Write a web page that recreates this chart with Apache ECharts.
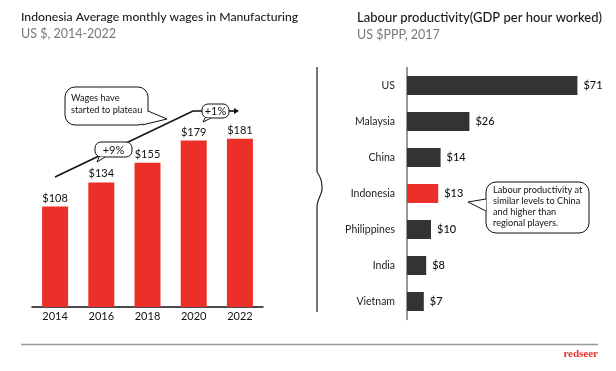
<!DOCTYPE html>
<html><head><meta charset="utf-8">
<script src="https://cdn.jsdelivr.net/npm/echarts@6/dist/echarts.min.js"></script>
<style>html,body{margin:0;padding:0;background:#fff}#c{width:616px;height:371px}</style>
</head><body><div id="c"></div>
<script>
const years = ['2014','2016','2018','2020','2022'];
const wages = [108,134,155,179,181];
const countries = ['US','Malaysia','China','Indonesia','Philippines','India','Vietnam'];
const productivity = [71,26,14,13,10,8,7];
const highlight = 'Indonesia';

const FONT = 'Lato';
const RED = '#ec2f28';
const DARK = '#333333';

const chart = echarts.init(document.getElementById('c'), null, {renderer:'canvas'});

function bubble(x,y,w,h,r,tail){
  return [
    {type:'rect', shape:{x:x,y:y,width:w,height:h,r:r}, style:{fill:'#fff',stroke:'#111',lineWidth:1}, z:10},
    {type:'polygon', shape:{points:tail}, style:{fill:'#fff',stroke:null}, z:11},
    {type:'polyline', shape:{points:tail}, style:{fill:null,stroke:'#111',lineWidth:1}, z:12}
  ];
}

const graphics = [
  {type:'line', shape:{x1:317,y1:67,x2:317,y2:172}, style:{stroke:'#777',lineWidth:2}},
  {type:'bezierCurve', shape:{x1:317,y1:172,x2:322,y2:189,cpx1:323,cpy1:180,cpx2:322,cpy2:185}, style:{stroke:'#222',lineWidth:1.2}},
  {type:'bezierCurve', shape:{x1:322,y1:189,x2:317,y2:207,cpx1:322,cpy1:194,cpx2:317,cpy2:200}, style:{stroke:'#222',lineWidth:1.2}},
  {type:'line', shape:{x1:317,y1:207,x2:317,y2:312}, style:{stroke:'#777',lineWidth:2}},
  {type:'line', shape:{x1:21,y1:344.5,x2:598,y2:344.5}, style:{stroke:'#999',lineWidth:1.5}},
  {type:'text', style:{x:598,y:354,text:'redseer',fill:'#e8312f',font:'bold 11px "Liberation Serif", serif',textAlign:'right',textVerticalAlign:'middle'}},
  {type:'polyline', shape:{points:[[55,177],[193,111],[203,111]]}, style:{stroke:'#111',lineWidth:1.6,fill:null}, z:5},
  {type:'line', shape:{x1:229,y1:111,x2:235,y2:111}, style:{stroke:'#111',lineWidth:1.6}, z:5},
  {type:'polygon', shape:{points:[[234,108],[239,111],[234,114]]}, style:{fill:'#111'}, z:5},
];
graphics.push(...bubble(95,142,37,15,6,[[99,157],[97,162],[105,157]]));
graphics.push({type:'text', z:13, style:{x:113.5,y:150,text:'+9%',fill:'#111',font:'11px '+FONT,textAlign:'center',textVerticalAlign:'middle'}});
graphics.push(...bubble(202,104,27,14,6,[[205,118],[203,122],[211,118]]));
graphics.push({type:'text', z:13, style:{x:215.5,y:111,text:'+1%',fill:'#111',font:'11px '+FONT,textAlign:'center',textVerticalAlign:'middle'}});
graphics.push(...bubble(65,87,83,38,10,[[148,111],[167,119],[142,125]]));
graphics.push({type:'text', z:13, style:{x:71,y:92.5,text:'Wages have\nstarted to plateau',fill:'#111',font:'9.2px '+FONT,lineHeight:11.5,textVerticalAlign:'top'}});
graphics.push(...bubble(486,182,103,51,10,[[486,199],[468,202],[486,211]]));
graphics.push({type:'text', z:13, style:{x:493,y:185,text:'Labour productivity at\nsimilar levels to China\nand higher than\nregional players.',fill:'#111',font:'9.2px '+FONT,lineHeight:11,textVerticalAlign:'top'}});

const option = {
  animation:false,
  backgroundColor:'#fff',
  textStyle:{fontFamily:FONT},
  title:[
    {text:'Indonesia Average monthly wages in Manufacturing', subtext:'US $, 2014-2022', left:16, top:6, itemGap:4,
      textStyle:{fontSize:12.2,fontWeight:500,color:'#1a1a1a',fontFamily:FONT},
      subtextStyle:{fontSize:12.5,color:'#777',fontFamily:FONT}},
    {text:'Labour productivity(GDP per hour worked)', subtext:'US $PPP, 2017', left:352, top:6, itemGap:4,
      textStyle:{fontSize:13,fontWeight:500,color:'#1a1a1a',fontFamily:FONT},
      subtextStyle:{fontSize:12.5,color:'#777',fontFamily:FONT}}
  ],
  grid:[
    {left:32, right:353, top:121, bottom:64},
    {left:407, right:17, top:67.5, bottom:51.5}
  ],
  xAxis:[
    {gridIndex:0, type:'category', data:years,
      axisLine:{lineStyle:{color:'#111',width:1.5}}, axisTick:{show:false},
      axisLabel:{color:'#111',fontSize:11,margin:4,fontFamily:FONT}},
    {gridIndex:1, type:'value', min:0, max:80, show:false, splitLine:{show:false}}
  ],
  yAxis:[
    {gridIndex:0, type:'value', min:0, max:200, show:false, splitLine:{show:false}},
    {gridIndex:1, type:'category', data:countries, inverse:true,
      axisLine:{lineStyle:{color:'#777',width:1.5}}, axisTick:{show:false},
      axisLabel:{color:'#222',fontSize:10.5,margin:12,fontFamily:FONT}}
  ],
  series:[
    {type:'bar', xAxisIndex:0, yAxisIndex:0, data:wages, barWidth:26,
      itemStyle:{color:RED},
      label:{show:true, position:'top', distance:3, formatter:p=>'$'+p.value, color:'#111', fontSize:11, fontFamily:FONT}},
    {type:'bar', xAxisIndex:1, yAxisIndex:1, barWidth:19,
      data:productivity.map((v,i)=>countries[i]===highlight?{value:v,itemStyle:{color:RED}}:v),
      itemStyle:{color:DARK},
      label:{show:true, position:'right', distance:6, formatter:p=>'$'+p.value, color:'#111', fontSize:11, fontWeight:500, fontFamily:FONT}}
  ],
  graphic: graphics
};
chart.setOption(option);
</script></body></html>
